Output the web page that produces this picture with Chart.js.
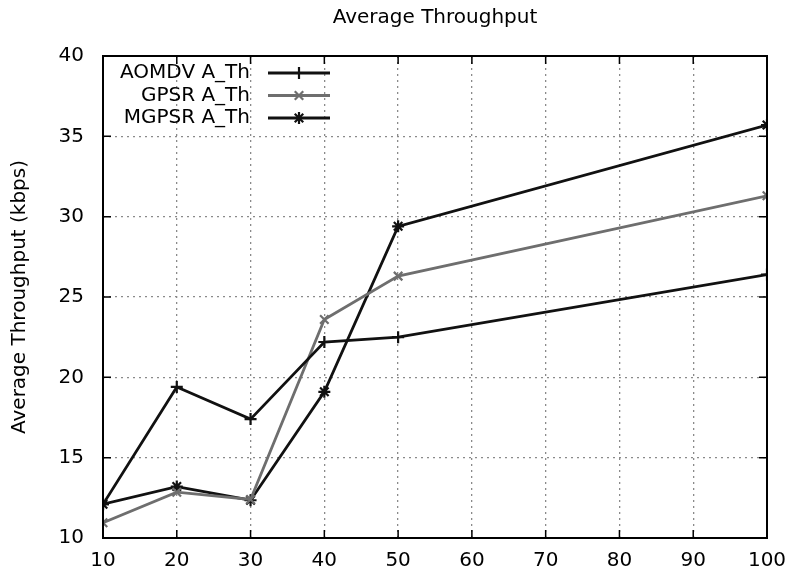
<!DOCTYPE html>
<html>
<head>
<meta charset="utf-8">
<script src="https://cdn.jsdelivr.net/npm/chart.js@4/dist/chart.umd.min.js"></script>
<style>
html,body{margin:0;padding:0;background:#fff;}
#wrap{width:787px;height:574px;}
</style>
</head>
<body>
<div id="wrap"><canvas id="c" width="787" height="574"></canvas></div>
<script>
const nodes = [10, 20, 30, 40, 50, 100];
const aomdv = [12.1, 19.4, 17.4, 22.2, 22.5, 26.4];
const gpsr  = [10.95, 12.85, 12.4, 23.6, 26.3, 31.3];
const mgpsr = [12.1, 13.2, 12.35, 19.1, 29.4, 35.7];
const seriesNames = ['AOMDV A_Th', 'GPSR A_Th', 'MGPSR A_Th'];
const xTicks = [10, 20, 30, 40, 50, 60, 70, 80, 90, 100];
const yTicks = [10, 15, 20, 25, 30, 35, 40];

const FONT = 'DejaVu Sans';
const pts = arr => nodes.map((x, i) => ({x: x, y: arr[i]}));
const styles = [
  {color: '#111111', point: 'cross'},
  {color: '#6e6e6e', point: 'crossRot'},
  {color: '#111111', point: 'star'}
];
const datasets = [aomdv, gpsr, mgpsr].map((arr, i) => ({
  label: seriesNames[i],
  data: pts(arr),
  borderColor: styles[i].color,
  backgroundColor: styles[i].color,
  borderWidth: 2.8,
  pointStyle: styles[i].point,
  pointRadius: 6,
  pointBorderWidth: 2.2,
  pointBorderColor: styles[i].color,
  tension: 0
}));

const framePlugin = {
  id: 'frame',
  afterDatasetsDraw(chart) {
    const {ctx, chartArea: a, scales} = chart;
    ctx.save();
    ctx.strokeStyle = '#000';
    ctx.lineWidth = 2;
    ctx.setLineDash([]);
    ctx.strokeRect(a.left, a.top, a.right - a.left, a.bottom - a.top);
    ctx.lineWidth = 1.5;
    const tl = 8;
    xTicks.forEach(v => {
      const px = scales.x.getPixelForValue(v);
      ctx.beginPath();
      ctx.moveTo(px, a.bottom); ctx.lineTo(px, a.bottom - tl);
      ctx.moveTo(px, a.top); ctx.lineTo(px, a.top + tl);
      ctx.stroke();
    });
    yTicks.forEach(v => {
      const py = scales.y.getPixelForValue(v);
      ctx.beginPath();
      ctx.moveTo(a.left, py); ctx.lineTo(a.left + tl, py);
      ctx.moveTo(a.right, py); ctx.lineTo(a.right - tl, py);
      ctx.stroke();
    });
    // legend (gnuplot style: text right aligned, sample to the right)
    ctx.font = '20px "' + FONT + '"';
    ctx.textAlign = 'right';
    ctx.textBaseline = 'middle';
    chart.data.datasets.forEach((ds, i) => {
      const y = a.top + 17 + i * 22.5;
      const tx = a.left + 147;
      ctx.fillStyle = '#000';
      ctx.fillText(ds.label, tx, y);
      const x0 = a.left + 165, x1 = a.left + 227;
      ctx.strokeStyle = ds.borderColor;
      ctx.fillStyle = ds.borderColor;
      ctx.lineWidth = 2.8;
      ctx.beginPath(); ctx.moveTo(x0, y); ctx.lineTo(x1, y); ctx.stroke();
      ctx.lineWidth = 2.2;
      Chart.helpers.drawPoint(ctx, {
        pointStyle: ds.pointStyle, radius: 6, borderWidth: 2.2, rotation: 0
      }, (x0 + x1) / 2, y);
    });
    ctx.restore();
  }
};

new Chart(document.getElementById('c'), {
  type: 'line',
  data: {datasets: datasets},
  options: {
    responsive: false,
    animation: false,
    layout: {padding: {left: 0, right: 20, top: 0, bottom: 0}},
    plugins: {
      legend: {display: false},
      tooltip: {enabled: false},
      title: {
        display: true,
        fullSize: false,
        text: 'Average Throughput',
        color: '#000',
        font: {family: FONT, size: 20, weight: 'normal'},
        padding: {top: 6, bottom: 26}
      }
    },
    scales: {
      x: {
        type: 'linear',
        min: 10, max: 100,
        afterBuildTicks: s => { s.ticks = xTicks.map(v => ({value: v})); },
        afterFit: s => { s.height = 36; s.paddingRight = 0; s.paddingLeft = 0; },
        ticks: {color: '#000', font: {family: FONT, size: 20}, padding: 11, maxRotation: 0},
        grid: {color: '#8a8a8a', lineWidth: 1.3, drawTicks: false},
        border: {display: false, dash: [2, 4]}
      },
      y: {
        type: 'linear',
        min: 10, max: 40,
        afterBuildTicks: s => { s.ticks = yTicks.map(v => ({value: v})); },
        afterFit: s => { s.width = 103; s.paddingTop = 0; s.paddingBottom = 0; },
        ticks: {color: '#000', font: {family: FONT, size: 20}, padding: 19},
        grid: {color: '#8a8a8a', lineWidth: 1.3, drawTicks: false},
        border: {display: false, dash: [2, 4]},
        title: {
          display: true,
          text: 'Average Throughput (kbps)',
          color: '#000',
          font: {family: FONT, size: 20, weight: 'normal'},
          padding: {top: 8, bottom: 0}
        }
      }
    }
  },
  plugins: [framePlugin]
});
</script>
</body>
</html>
